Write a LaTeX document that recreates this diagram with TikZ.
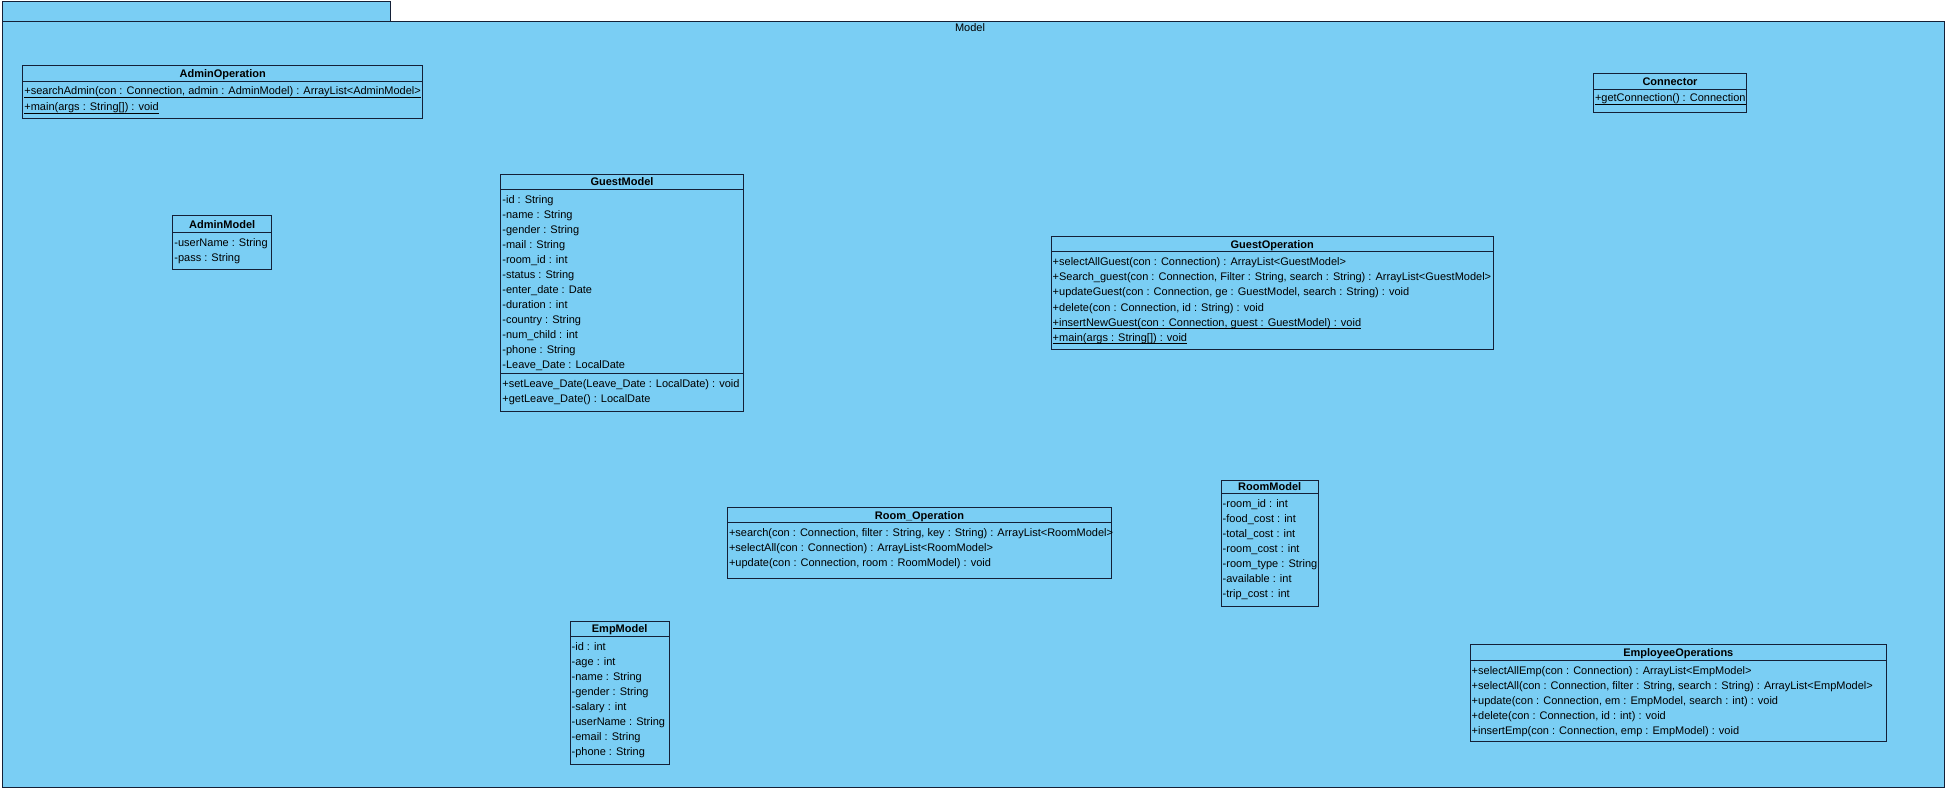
\documentclass[tikz,border=0pt]{standalone}
\usepackage{fontspec}
\setmainfont{Liberation Sans}
\definecolor{boxfill}{RGB}{122,206,244}
\definecolor{linec}{RGB}{20,32,55}
\newcommand{\fs}{\fontsize{11}{13}\selectfont}
\tikzset{
  pkg/.style={draw=linec, fill=boxfill, line width=1pt, inner sep=0pt, outer sep=0pt, anchor=north west},
  classbox/.style={draw=linec, fill=boxfill, line width=1pt, inner sep=0pt, outer sep=0pt, anchor=north west},
  sepline/.style={draw=linec, line width=1pt},
  ctitle/.style={anchor=base, inner sep=0pt, font=\bfseries\fs, text=black},
  member/.style={anchor=base west, inner sep=0pt, font=\fs, text=black},
  pkglabel/.style={anchor=base, inner sep=0pt, font=\fs, text=black},
  uline/.style={draw=black, line width=0.8pt},
}
\newcommand{\ul}[1]{\draw[uline] ([yshift=-2.6pt]#1.base west) -- ([yshift=-2.6pt]#1.base east);}
\begin{document}
\begin{tikzpicture}[x=1pt,y=-1pt]
\useasboundingbox (0,0) rectangle (1946,789);
% package
\node[pkg, minimum width=388pt, minimum height=20pt] (modeltab) at (2,2) {};
\node[pkg, minimum width=1942pt, minimum height=765pt] (model) at (2,22) {};
\node[pkglabel] (modellabel) at (970,32) {Model};

% AdminOperation
\node[classbox, minimum width=400pt, minimum height=53.3pt] (adminop) at (22.7,65.7) {};
\draw[sepline] (22.7,81.7) -- (422.7,81.7);
\node[ctitle] (adminop-t) at (222.7,77.7) {AdminOperation};
\node[member] (adminop-m1) at (24.2,95) {+searchAdmin(con : Connection, admin : AdminModel) : ArrayList<AdminModel>};
\node[member] (adminop-m2) at (24.2,110.6) {+main(args : String[]) : void};
\ul{adminop-m1}
\ul{adminop-m2}

% AdminModel
\node[classbox, minimum width=99pt, minimum height=53.6pt] (adminmodel) at (172.7,215.7) {};
\draw[sepline] (172.7,232.3) -- (271.7,232.3);
\node[ctitle] (adminmodel-t) at (222.2,228) {AdminModel};
\node[member] (adminmodel-a1) at (174.2,246.3) {-userName : String};
\node[member] (adminmodel-a2) at (174.2,261.3) {-pass : String};

% GuestModel
\node[classbox, minimum width=242.6pt, minimum height=236.7pt] (guestmodel) at (500.7,174.3) {};
\draw[sepline] (500.7,189.3) -- (743.3,189.3);
\draw[sepline] (500.7,373.3) -- (743.3,373.3);
\node[ctitle] (guestmodel-t) at (622,185.8) {GuestModel};
\node[member] (guestmodel-a1) at (502.2,203.3) {-id : String};
\node[member] (guestmodel-a2) at (502.2,218.3) {-name : String};
\node[member] (guestmodel-a3) at (502.2,233.3) {-gender : String};
\node[member] (guestmodel-a4) at (502.2,248.3) {-mail : String};
\node[member] (guestmodel-a5) at (502.2,263.3) {-room\_id : int};
\node[member] (guestmodel-a6) at (502.2,278.3) {-status : String};
\node[member] (guestmodel-a7) at (502.2,293.3) {-enter\_date : Date};
\node[member] (guestmodel-a8) at (502.2,308.3) {-duration : int};
\node[member] (guestmodel-a9) at (502.2,323.3) {-country : String};
\node[member] (guestmodel-a10) at (502.2,338.3) {-num\_child : int};
\node[member] (guestmodel-a11) at (502.2,353.3) {-phone : String};
\node[member] (guestmodel-a12) at (502.2,368.3) {-Leave\_Date : LocalDate};
\node[member] (guestmodel-m1) at (502.2,387.3) {+setLeave\_Date(Leave\_Date : LocalDate) : void};
\node[member] (guestmodel-m2) at (502.2,402.3) {+getLeave\_Date() : LocalDate};

% GuestOperation
\node[classbox, minimum width=442.3pt, minimum height=112.3pt] (guestop) at (1051,236.7) {};
\draw[sepline] (1051,251.7) -- (1493.3,251.7);
\node[ctitle] (guestop-t) at (1272.2,248.2) {GuestOperation};
\node[member] (guestop-m1) at (1052.5,265.7) {+selectAllGuest(con : Connection) : ArrayList<GuestModel>};
\node[member] (guestop-m2) at (1052.5,280.8) {+Search\_guest(con : Connection, Filter : String, search : String) : ArrayList<GuestModel>};
\node[member] (guestop-m3) at (1052.5,295.9) {+updateGuest(con : Connection, ge : GuestModel, search : String) : void};
\node[member] (guestop-m4) at (1052.5,311.0) {+delete(con : Connection, id : String) : void};
\node[member] (guestop-m5) at (1052.5,326.1) {+insertNewGuest(con : Connection, guest : GuestModel) : void};
\node[member] (guestop-m6) at (1052.5,341.2) {+main(args : String[]) : void};
\ul{guestop-m5}
\ul{guestop-m6}

% Connector
\node[classbox, minimum width=153.4pt, minimum height=39pt] (connector) at (1593.3,73.3) {};
\draw[sepline] (1593.3,89.3) -- (1746.7,89.3);
\node[ctitle] (connector-t) at (1670,85.3) {Connector};
\node[member] (connector-m1) at (1594.8,101.5) {+getConnection() : Connection};
\ul{connector-m1}

% Room_Operation
\node[classbox, minimum width=384.4pt, minimum height=71pt] (roomop) at (727.3,507.3) {};
\draw[sepline] (727.3,522.7) -- (1111.7,522.7);
\node[ctitle] (roomop-t) at (919.5,519) {Room\_Operation};
\node[member] (roomop-m1) at (728.8,536.7) {+search(con : Connection, filter : String, key : String) : ArrayList<RoomModel>};
\node[member] (roomop-m2) at (728.8,551.7) {+selectAll(con : Connection) : ArrayList<RoomModel>};
\node[member] (roomop-m3) at (728.8,566.7) {+update(con : Connection, room : RoomModel) : void};

% RoomModel
\node[classbox, minimum width=97.3pt, minimum height=126.7pt] (roommodel) at (1221,480) {};
\draw[sepline] (1221,493.3) -- (1318.3,493.3);
\node[ctitle] (roommodel-t) at (1269.7,490.7) {RoomModel};
\node[member] (roommodel-a1) at (1222.5,507.3) {-room\_id : int};
\node[member] (roommodel-a2) at (1222.5,522.3) {-food\_cost : int};
\node[member] (roommodel-a3) at (1222.5,537.3) {-total\_cost : int};
\node[member] (roommodel-a4) at (1222.5,552.3) {-room\_cost : int};
\node[member] (roommodel-a5) at (1222.5,567.3) {-room\_type : String};
\node[member] (roommodel-a6) at (1222.5,582.3) {-available : int};
\node[member] (roommodel-a7) at (1222.5,597.3) {-trip\_cost : int};

% EmpModel
\node[classbox, minimum width=99.3pt, minimum height=143pt] (empmodel) at (570,621) {};
\draw[sepline] (570,636.7) -- (669.3,636.7);
\node[ctitle] (empmodel-t) at (619.7,632.9) {EmpModel};
\node[member] (empmodel-a1) at (571.5,650.7) {-id : int};
\node[member] (empmodel-a2) at (571.5,665.7) {-age : int};
\node[member] (empmodel-a3) at (571.5,680.7) {-name : String};
\node[member] (empmodel-a4) at (571.5,695.7) {-gender : String};
\node[member] (empmodel-a5) at (571.5,710.7) {-salary : int};
\node[member] (empmodel-a6) at (571.5,725.7) {-userName : String};
\node[member] (empmodel-a7) at (571.5,740.7) {-email : String};
\node[member] (empmodel-a8) at (571.5,755.7) {-phone : String};

% EmployeeOperations
\node[classbox, minimum width=416.7pt, minimum height=97.4pt] (empop) at (1470,644.3) {};
\draw[sepline] (1470,660) -- (1886.7,660);
\node[ctitle] (empop-t) at (1678.3,656.2) {EmployeeOperations};
\node[member] (empop-m1) at (1471.5,674) {+selectAllEmp(con : Connection) : ArrayList<EmpModel>};
\node[member] (empop-m2) at (1471.5,689) {+selectAll(con : Connection, filter : String, search : String) : ArrayList<EmpModel>};
\node[member] (empop-m3) at (1471.5,704) {+update(con : Connection, em : EmpModel, search : int) : void};
\node[member] (empop-m4) at (1471.5,719) {+delete(con : Connection, id : int) : void};
\node[member] (empop-m5) at (1471.5,734) {+insertEmp(con : Connection, emp : EmpModel) : void};
\end{tikzpicture}
\end{document}
